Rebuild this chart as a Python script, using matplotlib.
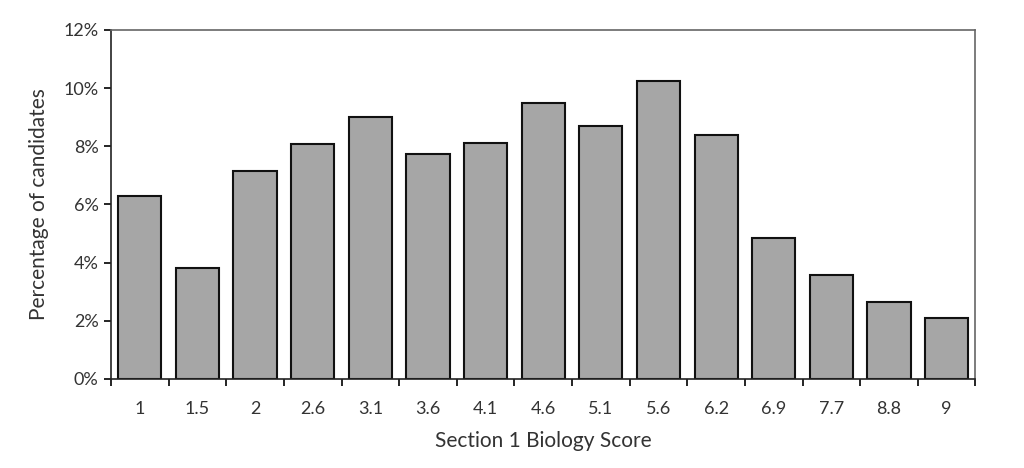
import matplotlib.pyplot as plt
import numpy as np
from matplotlib.ticker import PercentFormatter

scores = ['1', '1.5', '2', '2.6', '3.1', '3.6', '4.1', '4.6', '5.1', '5.6',
          '6.2', '6.9', '7.7', '8.8', '9']
pct = [6.3, 3.8, 7.15, 8.07, 9.0, 7.74, 8.1, 9.48, 8.71, 10.25,
       8.4, 4.86, 3.58, 2.66, 2.09]

plt.rcParams['font.family'] = ['Lato', 'DejaVu Sans']

fig = plt.figure(figsize=(10.24, 4.68), dpi=100)
ax = fig.add_axes([0.1084, 0.1902, 0.8442, 0.7457])

x = np.arange(len(scores))
ax.bar(x, pct, width=0.75, color='#a6a6a6', edgecolor='#111111', linewidth=1.5, zorder=2)

ax.set_xlim(-0.5, len(scores) - 0.5)
ax.set_ylim(0, 12)
ax.set_yticks(range(0, 13, 2))
ax.yaxis.set_major_formatter(PercentFormatter(decimals=0))

ax.set_xticks(x)
ax.set_xticklabels(scores)
ax.set_xticks(np.arange(-0.5, len(scores)), minor=True)
ax.tick_params(axis='x', which='major', length=0, pad=16, labelsize=13, labelcolor='#333333')
ax.tick_params(axis='x', which='minor', length=5, width=1.2, direction='out')
ax.tick_params(axis='y', length=5, width=1.2, direction='out', labelsize=13,
               labelcolor='#333333', pad=4)

for s in ax.spines.values():
    s.set_linewidth(1.2)
    s.set_color('#222222')
ax.spines['top'].set_color('#666666')
ax.spines['right'].set_color('#666666')

ax.set_xlabel('Section 1 Biology Score', fontsize=15, color='#333333', labelpad=10)
ax.set_ylabel('Percentage of candidates', fontsize=15, color='#333333', labelpad=10)

plt.savefig('out.png', dpi=100)
